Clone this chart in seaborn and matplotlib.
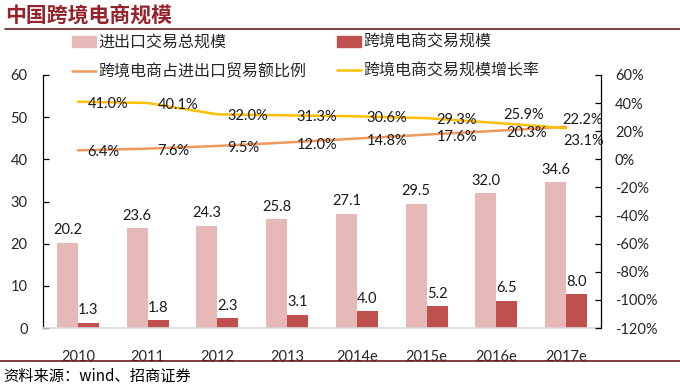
import numpy as np
import pandas as pd
import matplotlib
matplotlib.use("Agg")
import matplotlib.pyplot as plt
from matplotlib.patches import Patch
from matplotlib.lines import Line2D
import seaborn as sns

# ---- data ----
years = ["2010", "2011", "2012", "2013", "2014e", "2015e", "2016e", "2017e"]
total_trade = [20.2, 23.6, 24.3, 25.8, 27.1, 29.5, 32.0, 34.6]
cb_ecommerce = [1.3, 1.8, 2.3, 3.1, 4.0, 5.2, 6.5, 8.0]
cb_share_pct = [6.4, 7.6, 9.5, 12.0, 14.8, 17.6, 20.3, 23.1]
cb_growth_pct = [41.0, 40.1, 32.0, 31.3, 30.6, 29.3, 25.9, 22.2]

name_total = "进出口交易总规模"
name_cb = "跨境电商交易规模"
name_share = "跨境电商占进出口贸易额比例"
name_growth = "跨境电商交易规模增长率"
title = "中国跨境电商规模"
source = "资料来源：wind、招商证券"

# ---- style ----
sns.set_style("white")
plt.rcParams["font.family"] = ["Lato", "Noto Sans CJK SC", "DejaVu Sans"]

c_pink = "#E6B9B8"
c_dark = "#C0504D"
c_orange = "#EE9A5E"
c_yellow = "#FFC000"
c_title = "#96232B"
c_rule = "#6B1C1C"

fig = plt.figure(figsize=(6.8, 3.88), dpi=100)
ax = fig.add_axes([43/680, 1-328/388, (601-43)/680, (328-75)/388])

df = pd.DataFrame({
    "year": years * 2,
    "value": total_trade + cb_ecommerce,
    "series": [name_total] * len(years) + [name_cb] * len(years),
})
sns.barplot(data=df, x="year", y="value", hue="series",
            palette=[c_pink, c_dark], width=0.6, gap=0, saturation=1,
            linewidth=0, ax=ax, legend=False)

for cont in ax.containers:
    ax.bar_label(cont, fmt="%.1f", padding=4, fontsize=10.5, color="#1a1a1a")

ax.set_ylim(0, 60)
ax.set_yticks(np.arange(0, 61, 10))
ax.set_xlabel("")
ax.set_ylabel("")

ax2 = ax.twinx()
xpos = np.arange(len(years))
sns.lineplot(x=xpos, y=cb_share_pct, ax=ax2, color=c_orange, linewidth=1.8)
sns.lineplot(x=xpos, y=cb_growth_pct, ax=ax2, color=c_yellow, linewidth=1.8)
ax2.set_ylim(-120, 60)
ax2.set_yticks(np.arange(-120, 61, 20))
ax2.set_yticklabels([f"{v}%" for v in range(-120, 61, 20)])
ax.set_xlim(-0.5, len(years) - 0.5)

# line labels (offsets in points)
share_off = {7: (-2, -10)}
growth_off = {6: (5, 6), 7: (-3, 6)}
for i, v in enumerate(cb_share_pct):
    dx, dy = share_off.get(i, (7, -1.5))
    ax2.annotate(f"{v:.1f}%", (xpos[i], v), xytext=(dx, dy), textcoords="offset points",
                 ha="left", va="center", fontsize=10.5, color="#1a1a1a")
for i, v in enumerate(cb_growth_pct):
    dx, dy = growth_off.get(i, (7, -1.5))
    ax2.annotate(f"{v:.1f}%", (xpos[i], v), xytext=(dx, dy), textcoords="offset points",
                 ha="left", va="center", fontsize=10.5, color="#1a1a1a")

# spines & ticks
for a in (ax, ax2):
    a.spines["top"].set_visible(False)
ax.spines["right"].set_visible(False)
ax2.spines["left"].set_visible(False)
ax2.spines["bottom"].set_visible(False)
ax.spines["left"].set_color("black")
ax.spines["left"].set_linewidth(0.9)
ax2.spines["right"].set_color("black")
ax2.spines["right"].set_linewidth(0.9)
ax.spines["bottom"].set_color("#D9D9D9")
ax.spines["bottom"].set_linewidth(1.2)

ax.tick_params(axis="y", direction="in", length=4, width=0.9, color="black",
               labelsize=10.5, pad=11, left=True)
ax2.tick_params(axis="y", direction="in", length=4, width=0.9, color="black",
                labelsize=10.5, pad=10, right=True)
ax.tick_params(axis="x", length=0, labelsize=10.5, pad=16)
ax.grid(False)
ax2.grid(False)

# legend
handles = [Patch(color=c_pink, label=name_total),
           Line2D([], [], color=c_orange, lw=1.8, label=name_share),
           Patch(color=c_dark, label=name_cb),
           Line2D([], [], color=c_yellow, lw=1.8, label=name_growth)]
fig.legend(handles=handles, ncol=2, loc="upper left",
           bbox_to_anchor=(72/680, 1-35/388), frameon=False,
           fontsize=11.5, handlelength=1.5, handletextpad=0.15,
           columnspacing=1.9, labelspacing=0.85, borderpad=0, borderaxespad=0)

# title and source
fig.text(5/680, 1-15/388, title, fontsize=15, color=c_title, fontweight="bold",
         va="center", ha="left", family=["Noto Sans CJK SC"])
fig.add_artist(Line2D([5/680, 1], [1-29/388, 1-29/388], color=c_rule, lw=1.2,
                      transform=fig.transFigure))
fig.add_artist(Line2D([0, 1], [1-361/388, 1-361/388], color=c_rule, lw=1.2,
                      transform=fig.transFigure))
fig.text(3/680, 1-376/388, source, fontsize=11, color="black",
         va="center", ha="left", family=["Noto Sans CJK SC", "DejaVu Sans"])

fig.savefig("out.png", dpi=100)
